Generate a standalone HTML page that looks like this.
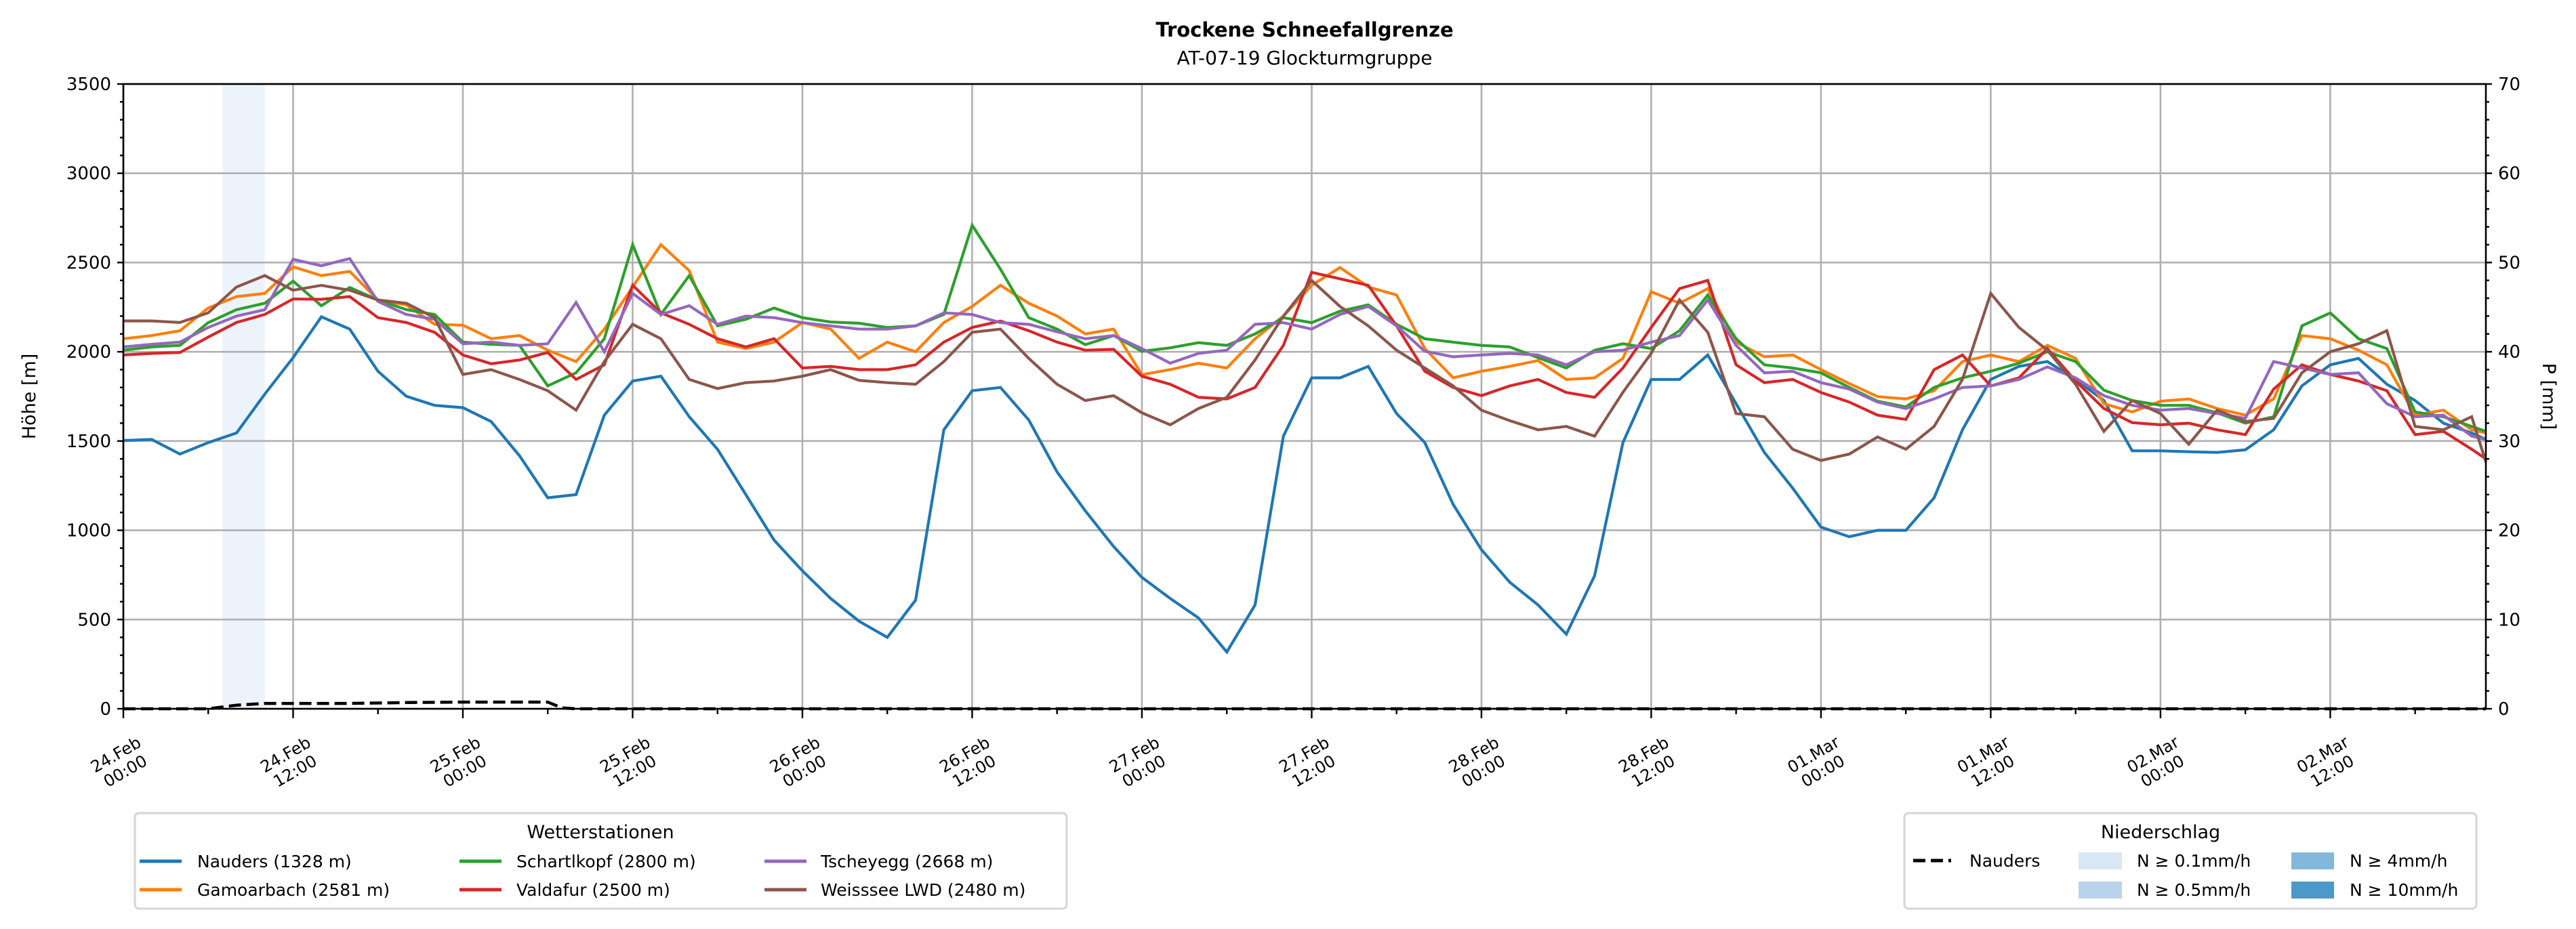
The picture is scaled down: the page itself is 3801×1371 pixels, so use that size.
<!DOCTYPE html>
<html><head><meta charset="utf-8"><style>
html,body{margin:0;padding:0;background:#fff;}
svg{display:block;font-family:"DejaVu Sans","Liberation Sans",sans-serif;}
</style></head><body>
<svg id="chart" width="3801" height="1371" viewBox="0 0 3801 1371" xmlns="http://www.w3.org/2000/svg">
<rect x="0" y="0" width="3801" height="1371" fill="#fff"/>
<text x="1925" y="54" font-size="29" font-weight="bold" text-anchor="middle">Trockene Schneefallgrenze</text>
<text x="1925" y="95" font-size="28" text-anchor="middle">AT-07-19 Glockturmgruppe</text>
<g id="plot"></g>
<text transform="translate(52,585) rotate(-90)" font-size="27" text-anchor="middle">Höhe [m]</text>
<text transform="translate(3752,585) rotate(90)" font-size="27" text-anchor="middle">P [mm]</text>
<g id="legend1">
<rect x="199" y="1200" width="1375" height="141" rx="6" fill="#fff" stroke="#d6d6d6" stroke-width="3"/>
<text x="886" y="1237" font-size="27" text-anchor="middle">Wetterstationen</text>
</g>
<g id="legend2">
<rect x="2810" y="1200" width="844" height="141" rx="6" fill="#fff" stroke="#d6d6d6" stroke-width="3"/>
<text x="3188" y="1237" font-size="27" text-anchor="middle">Niederschlag</text>
<line x1="2823" y1="1270" x2="2879" y2="1270" stroke="#000" stroke-width="5" stroke-dasharray="18,8"/>
<text x="2906" y="1279" font-size="25">Nauders</text>
<rect x="3067" y="1258" width="64" height="25" fill="#d9e7f5"/>
<text x="3153" y="1279" font-size="25">N ≥ 0.1mm/h</text>
<rect x="3067" y="1301" width="64" height="25" fill="#b9d4ea"/>
<text x="3153" y="1322" font-size="25">N ≥ 0.5mm/h</text>
<rect x="3381" y="1258" width="63" height="25" fill="#82b8da"/>
<text x="3467" y="1279" font-size="25">N ≥ 4mm/h</text>
<rect x="3381" y="1301" width="63" height="25" fill="#4b98c9"/>
<text x="3467" y="1322" font-size="25">N ≥ 10mm/h</text>
</g>
</svg>
<script>
const hours = [0,2,4,6,8,10,12,14,16,18,20,22,24,26,28,30,32,34,36,38,40,42,44,46,48,50,52,54,56,58,60,62,64,66,68,70,72,74,76,78,80,82,84,86,88,90,92,94,96,98,100,102,104,106,108,110,112,114,116,118,120,122,124,126,128,130,132,134,136,138,140,142,144,146,148,150,152,154,156,158,160,162,164,166,167];
const nauders = [1503,1509,1427,1491,1545,1763,1967,2196,2127,1891,1751,1700,1687,1609,1418,1182,1200,1645,1836,1863,1636,1454,
1200,945,773,618,491,400,609,1563,1782,1800,1618,1327,1109,909,736,618,509,318,582,1527,1854,
1854,1918,1654,1491,1145,891,709,582,418,745,1491,1845,1845,1982,1709,1436,1236,1018,964,1000,1000,
1182,1563,1845,1918,1945,1845,1727,1445,1445,1440,1436,1451,1563,1809,1927,1963,1818,1727,1600,1545,1509];
const gamoarbach = [2073,2091,2118,2245,2309,2327,2476,2427,2450,2290,2263,2154,2149,2073,2091,2009,1945,2127,2363,2600,2454,2054,
2018,2054,2164,2127,1963,2054,2000,2164,2254,2372,2272,2200,2100,2127,1872,1900,1936,1909,2073,2200,2372,
2472,2363,2318,2018,1854,1891,1918,1951,1845,1854,1963,2336,2272,2354,2054,1972,1982,1900,1822,1749,1736,
1782,1945,1982,1945,2036,1963,1709,1663,1723,1736,1682,1645,1736,2091,2073,2009,1927,1645,1673,1563,1545];
const schartlkopf = [2009,2027,2036,2163,2236,2272,2396,2258,2360,2290,2236,2209,2054,2042,2036,1809,1882,2073,2600,2209,2427,2145,
2182,2245,2191,2167,2160,2136,2145,2209,2709,2463,2191,2127,2040,2091,2003,2022,2051,2036,2100,2191,2163,
2227,2263,2154,2073,2054,2036,2027,1967,1909,2009,2045,2018,2118,2318,2073,1927,1909,1882,1800,1723,1691,
1800,1854,1891,1936,2000,1945,1785,1727,1700,1700,1658,1600,1636,2145,2218,2073,2018,1663,1636,1582,1554];
const valdafur = [1982,1991,1996,2082,2164,2209,2296,2294,2309,2191,2164,2109,1982,1933,1954,1996,1845,1927,2373,2218,2154,2073,
2027,2073,1909,1918,1900,1900,1927,2054,2136,2172,2118,2054,2009,2014,1863,1818,1745,1736,1800,2036,2445,
2409,2372,2145,1891,1800,1754,1809,1845,1772,1745,1909,2136,2354,2400,1927,1827,1845,1772,1718,1645,1621,
1900,1982,1809,1854,2018,1836,1682,1603,1591,1600,1563,1536,1791,1927,1873,1836,1782,1536,1554,1454,1400];
const tscheyegg = [2027,2042,2054,2136,2200,2236,2518,2482,2522,2282,2209,2182,2045,2054,2036,2045,2276,2000,2327,2209,2258,2154,
2200,2191,2163,2145,2127,2127,2145,2218,2209,2163,2154,2112,2073,2091,2018,1936,1991,2009,2154,2163,2127,
2209,2254,2145,2003,1972,1982,1991,1982,1927,2000,2009,2054,2091,2290,2036,1882,1891,1827,1791,1718,1682,
1736,1800,1809,1845,1915,1854,1754,1700,1673,1682,1654,1627,1945,1909,1873,1882,1709,1636,1645,1527,1509];
const weisssee = [2173,2173,2164,2218,2363,2427,2345,2372,2345,2290,2272,2191,1873,1900,1845,1782,1673,1945,2154,2073,1845,1794,
1827,1836,1863,1900,1840,1827,1818,1945,2109,2127,1963,1818,1727,1754,1658,1591,1682,1745,1954,2200,2400,
2254,2145,2009,1909,1809,1673,1614,1563,1582,1527,1773,1991,2290,2109,1654,1636,1454,1391,1427,1523,1454,
1582,1845,2327,2136,2009,1818,1554,1727,1654,1482,1673,1609,1627,1882,2000,2045,2118,1582,1563,1636,1382];
const precipHours = [0,6,7,8,9,10,12,16,20,24,30,31,32,167];
const precipNauders = [0,0,0.2,0.4,0.5,0.6,0.6,0.6,0.7,0.75,0.75,0.1,0,0];
const bandStart = [7];
const bandEnd = [10];
const seriesNames = ["Nauders (1328 m)","Gamoarbach (2581 m)","Schartlkopf (2800 m)","Valdafur (2500 m)","Tscheyegg (2668 m)","Weisssee LWD (2480 m)"];
const yTicks = [0,500,1000,1500,2000,2500,3000,3500];
const y2Ticks = [0,10,20,30,40,50,60,70];
const xTickHours = [0,12,24,36,48,60,72,84,96,108,120,132,144,156];
const xTickDay = ["24.Feb","24.Feb","25.Feb","25.Feb","26.Feb","26.Feb","27.Feb","27.Feb","28.Feb","28.Feb","01.Mar","01.Mar","02.Mar","02.Mar"];
const xTickTime = ["00:00","12:00","00:00","12:00","00:00","12:00","00:00","12:00","00:00","12:00","00:00","12:00","00:00","12:00"];

const NS="http://www.w3.org/2000/svg";
const L=182,R=3668,T=124,B=1046,XMAX=167,YMAX=3500,PMAX=70;
const xs=h=>L+(R-L)*h/XMAX;
const ys=v=>B-(B-T)*v/YMAX;
const ps=v=>B-(B-T)*v/PMAX;
const plot=document.getElementById('plot');
function mk(tag,attrs,parent){const e=document.createElementNS(NS,tag);for(const k in attrs)e.setAttribute(k,attrs[k]);(parent||plot).appendChild(e);return e;}

for(let i=0;i<bandStart.length;i++){
  const r=mk('rect',{x:xs(bandStart[i]),y:T,width:xs(bandEnd[i])-xs(bandStart[i]),height:B-T,fill:'#edf3fb'});
  
  
}
xTickHours.forEach(h=>{
  const g=mk('line',{x1:xs(h),x2:xs(h),y1:T,y2:B,stroke:'#b0b0b0','stroke-width':2.6});
  
  
});
yTicks.forEach(v=>{
  const g=mk('line',{x1:L,x2:R,y1:ys(v),y2:ys(v),stroke:'#b0b0b0','stroke-width':2.6});
  
  
});
const colors=['#1f77b4','#ff7f0e','#2ca02c','#d62728','#9467bd','#8c564b'];
const allSeries=[nauders,gamoarbach,schartlkopf,valdafur,tscheyegg,weisssee];
allSeries.forEach((s,si)=>{
  const pts=s.map((v,i)=>xs(hours[i]).toFixed(1)+','+ys(v).toFixed(1)).join(' ');
  const pl=mk('polyline',{points:pts,fill:'none',stroke:colors[si],'stroke-width':4.2,'stroke-linejoin':'miter'});
  
  
});
{
  const pts=precipNauders.map((v,i)=>xs(precipHours[i]).toFixed(1)+','+ps(v).toFixed(1)).join(' ');
  const pl=mk('polyline',{points:pts,fill:'none',stroke:'#000','stroke-width':4.5,'stroke-dasharray':'18,8'});
  
  
}
const fr=mk('rect',{x:L,y:T,width:R-L,height:B-T,fill:'none',stroke:'#000','stroke-width':2.6});


for(let v=0;v<=YMAX;v+=100){
  const major=v%500===0;
  const t=mk('line',{x1:L-(major?9:5),x2:L,y1:ys(v),y2:ys(v),stroke:'#000','stroke-width':2.4});
  
  
}
yTicks.forEach(v=>{
  const t=mk('text',{x:L-18,y:ys(v)+9,'font-size':26,'text-anchor':'end'});
  t.textContent=v;
  
  
});
for(let v=0;v<=PMAX;v+=2){
  const major=v%10===0;
  const t=mk('line',{x1:R,x2:R+(major?9:5),y1:ps(v),y2:ps(v),stroke:'#000','stroke-width':2.4});
  
  
}
y2Ticks.forEach(v=>{
  const t=mk('text',{x:R+18,y:ps(v)+9,'font-size':26,'text-anchor':'start'});
  t.textContent=v;
  
  
});
for(let h=0;h<=XMAX;h+=6){
  const major=h%12===0;
  const t=mk('line',{x1:xs(h),x2:xs(h),y1:B,y2:B+(major?14:8),stroke:'#000','stroke-width':2.4});
  
  
}
xTickHours.forEach((h,i)=>{
  const g=mk('g',{transform:`translate(${xs(h)-4},1126) rotate(-30)`});
  
  
  const a=mk('text',{x:0,y:-6,'font-size':24,'text-anchor':'middle'},g);a.textContent=xTickDay[i];
  const b=mk('text',{x:0,y:22,'font-size':24,'text-anchor':'middle'},g);b.textContent=xTickTime[i];
});
const leg=document.getElementById('legend1');
const lx=[206,678,1128], tx=[291,762,1211], ly=[1271,1313];
seriesNames.forEach((n,i)=>{
  const col=Math.floor(i/2), row=i%2;
  const l=mk('line',{x1:lx[col],x2:lx[col]+62,y1:ly[row],y2:ly[row],stroke:colors[i],'stroke-width':5},leg);
  
  
  const t=mk('text',{x:tx[col],y:ly[row]+9,'font-size':25},leg);
  t.textContent=n;
  
  
});
</script>
</body></html>
